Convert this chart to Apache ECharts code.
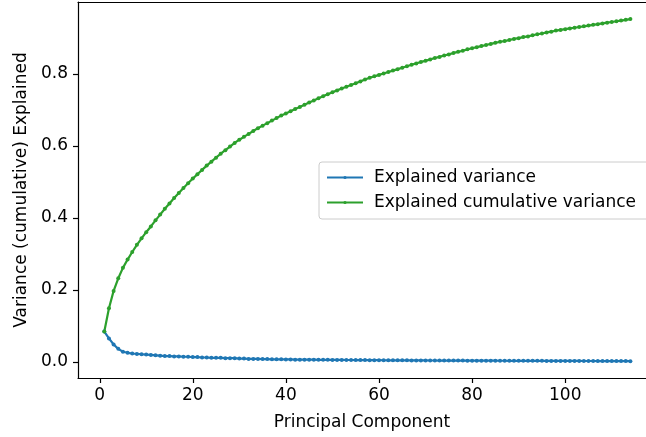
<!DOCTYPE html>
<html>
<head>
<meta charset="utf-8">
<script src="https://cdn.jsdelivr.net/npm/echarts@6/dist/echarts.min.js"></script>
<style>
    html, body { margin: 0; padding: 0; background: #fff; }
    #chart { width: 646px; height: 437px; }
</style>
</head>
<body>
<div id="chart"></div>
<script>
// explained variance per principal component
const explainedVar = [
    0.084, 0.065, 0.048, 0.036, 0.028, 0.025, 0.023, 0.022, 0.021, 0.020,
    0.019, 0.018, 0.017, 0.016, 0.016, 0.015, 0.015, 0.014, 0.014, 0.013,
    0.013, 0.012, 0.012, 0.011, 0.011, 0.011, 0.010, 0.010, 0.010, 0.009,
    0.009, 0.008, 0.008, 0.008, 0.0075, 0.0075, 0.007, 0.007, 0.007, 0.0065,
    0.0065, 0.006, 0.006, 0.006, 0.006, 0.0058, 0.0056, 0.0055, 0.0054, 0.0053,
    0.0052, 0.0051, 0.005, 0.005, 0.0049, 0.0048, 0.0047, 0.0046, 0.0045, 0.0044,
    0.0043, 0.0042, 0.0042, 0.0041, 0.004, 0.004, 0.0039, 0.0038, 0.0038, 0.0037,
    0.0036, 0.0036, 0.0035, 0.0035, 0.0034, 0.0034, 0.0033, 0.0033, 0.0032, 0.0032,
    0.0031, 0.0031, 0.003, 0.003, 0.003, 0.0029, 0.0029, 0.0028, 0.0028, 0.0028,
    0.0027, 0.0027, 0.0026, 0.0026, 0.0026, 0.0025, 0.0025, 0.0025, 0.0024, 0.0024,
    0.0023, 0.0023, 0.0023, 0.0022, 0.0022, 0.0022, 0.0021, 0.0021, 0.0021, 0.002,
    0.002, 0.0019, 0.0019, 0.0018
];

// explained cumulative variance
const cumulativeVar = [
    0.084, 0.149, 0.197, 0.232, 0.261, 0.284, 0.305, 0.325, 0.343, 0.360,
    0.376, 0.393, 0.409, 0.425, 0.440, 0.455, 0.469, 0.483, 0.496, 0.509,
    0.521, 0.533, 0.545, 0.556, 0.567, 0.578, 0.588, 0.598, 0.608, 0.617,
    0.625, 0.633, 0.641, 0.649, 0.656, 0.663, 0.670, 0.677, 0.684, 0.690,
    0.696, 0.702, 0.708, 0.714, 0.720, 0.726, 0.732, 0.738, 0.743, 0.749,
    0.754, 0.759, 0.764, 0.769, 0.774, 0.779, 0.784, 0.789, 0.793, 0.797,
    0.801, 0.805, 0.809, 0.813, 0.817, 0.821, 0.825, 0.829, 0.833, 0.836,
    0.840, 0.844, 0.847, 0.851, 0.854, 0.858, 0.861, 0.864, 0.868, 0.871,
    0.874, 0.877, 0.880, 0.883, 0.886, 0.889, 0.891, 0.894, 0.897, 0.899,
    0.902, 0.904, 0.907, 0.910, 0.912, 0.915, 0.917, 0.920, 0.922, 0.924,
    0.926, 0.928, 0.930, 0.932, 0.934, 0.936, 0.938, 0.940, 0.942, 0.944,
    0.946, 0.948, 0.950, 0.952
];

const xTicks = [0, 20, 40, 60, 80, 100];
const yTicks = [0, 0.2, 0.4, 0.6, 0.8];
const seriesNames = ['Explained variance', 'Explained cumulative variance'];

const FONT = 'DejaVu Sans';
const FS = 17;
// the original figure is cut at the right edge, so the x range stops short of the data margin
const X_MIN = -4.65, X_MAX = 117.35;
const Y_MIN = -0.045, Y_MAX = 0.9995;

const components = explainedVar.map((v, i) => i + 1);

const axisLineStyle = { color: '#000', width: 1.2 };

let option = {
    animation: false,
    backgroundColor: '#fff',
    textStyle: { fontFamily: FONT },
    grid: {
        left: 78,
        top: 2,
        right: 0,
        bottom: 59,
        show: false
    },
    legend: {
        data: seriesNames,
        orient: 'vertical',
        left: 319,
        top: 162,
        itemWidth: 36,
        itemHeight: 4,
        itemGap: 8,
        padding: [7, 14, 8, 7],
        backgroundColor: 'rgba(255,255,255,0.8)',
        borderColor: '#cccccc',
        borderWidth: 1,
        borderRadius: 3,
        textStyle: { fontFamily: FONT, fontSize: FS, color: '#000', lineHeight: 17, padding: [0, 0, 0, 6] }
    },
    xAxis: [
        {
            type: 'value',
            min: X_MIN,
            max: X_MAX,
            name: 'Principal Component',
            nameLocation: 'middle',
            nameGap: 36,
            nameTextStyle: { fontFamily: FONT, fontSize: FS, color: '#000' },
            axisLine: { show: true, onZero: false, lineStyle: axisLineStyle },
            axisTick: { show: false },
            axisLabel: { customValues: xTicks, fontFamily: FONT, fontSize: FS, color: '#000', margin: 9 },
            splitLine: { show: false }
        },
        {
            // top spine only
            type: 'value',
            position: 'top',
            min: X_MIN,
            max: X_MAX,
            axisLine: { show: true, onZero: false, lineStyle: axisLineStyle },
            axisTick: { show: false },
            axisLabel: { show: false },
            splitLine: { show: false }
        }
    ],
    yAxis: {
        type: 'value',
        min: Y_MIN,
        max: Y_MAX,
        name: 'Variance (cumulative) Explained',
        nameLocation: 'middle',
        nameGap: 45,
        nameTextStyle: { fontFamily: FONT, fontSize: FS, color: '#000' },
        axisLine: { show: true, onZero: false, lineStyle: axisLineStyle },
        axisTick: { show: false },
        axisLabel: {
            customValues: yTicks,
            fontFamily: FONT, fontSize: FS, color: '#000', margin: 10,
            formatter: v => v.toFixed(1)
        },
        splitLine: { show: false }
    },
    series: [
        {
            name: seriesNames[0],
            type: 'line',
            data: components.map((c, i) => [c, explainedVar[i]]),
            symbol: 'circle',
            symbolSize: 4,
            showSymbol: true,
            color: '#1f77b4',
            lineStyle: { width: 2.2, color: '#1f77b4' },
            itemStyle: { color: '#1f77b4' }
        },
        {
            name: seriesNames[1],
            type: 'line',
            data: components.map((c, i) => [c, cumulativeVar[i]]),
            symbol: 'circle',
            symbolSize: 4,
            showSymbol: true,
            color: '#2ca02c',
            lineStyle: { width: 2.2, color: '#2ca02c' },
            itemStyle: { color: '#2ca02c' }
        }
    ]
};

const myChart = echarts.init(document.getElementById('chart'), null, { renderer: 'canvas' });
myChart.setOption(option);

// outward tick marks, placed through the axes' own scales
function drawTicks() {
    const bottom = myChart.convertToPixel({ yAxisIndex: 0 }, Y_MIN);
    const left = myChart.convertToPixel({ xAxisIndex: 0 }, X_MIN);
    const tickStyle = { stroke: '#000', lineWidth: 1.2 };
    const elements = [];
    xTicks.forEach(v => {
        const x = Math.round(myChart.convertToPixel({ xAxisIndex: 0 }, v)) + 0.5;
        elements.push({ type: 'line', silent: true, shape: { x1: x, y1: bottom, x2: x, y2: bottom + 5 }, style: tickStyle });
    });
    yTicks.forEach(v => {
        const y = Math.round(myChart.convertToPixel({ yAxisIndex: 0 }, v)) + 0.5;
        elements.push({ type: 'line', silent: true, shape: { x1: left - 5, y1: y, x2: left, y2: y }, style: tickStyle });
    });
    myChart.setOption({ graphic: { elements: elements } });
}
drawTicks();

window.addEventListener('resize', () => {
    myChart.resize();
    drawTicks();
});
</script>
</body>
</html>
